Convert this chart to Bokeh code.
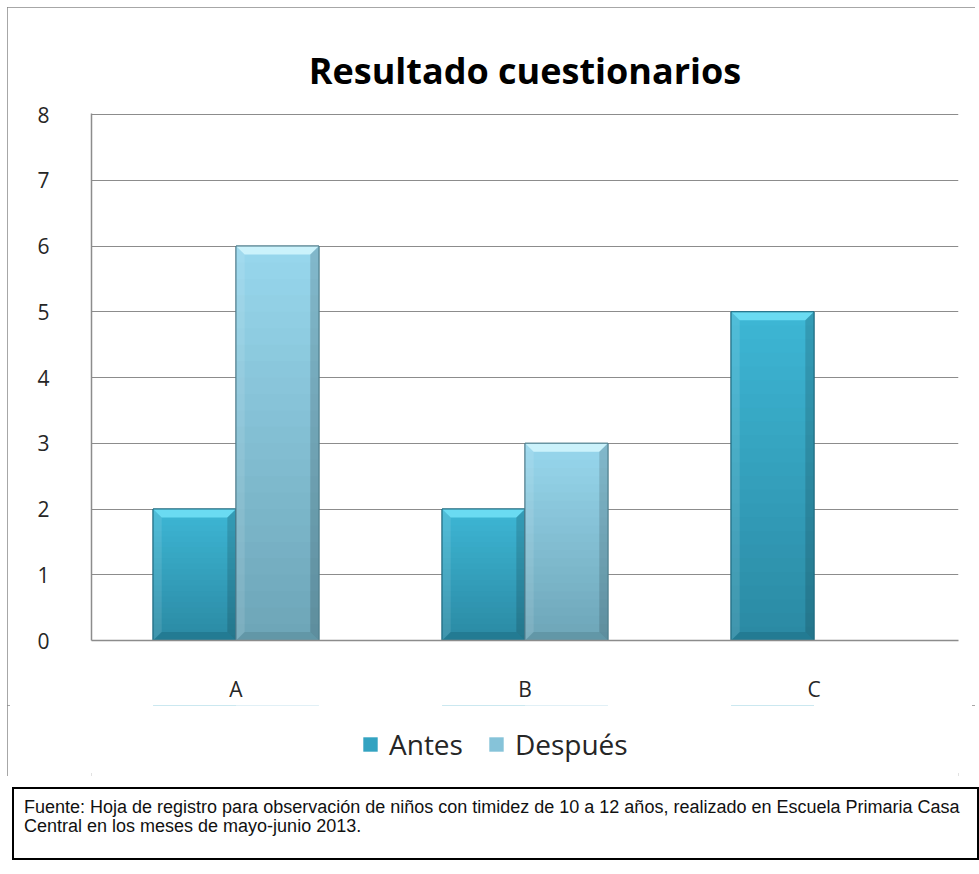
import numpy as np
from bokeh.plotting import figure
from bokeh.models import (FixedTicker, Legend, LegendItem, Div, Range1d, FactorRange)
from bokeh.layouts import column
from bokeh.embed import file_html
from bokeh.resources import INLINE

# ---- data ----
categories = ["A", "B", "C"]
antes = [2, 2, 5]
despues = [6, 3, 0]
y_ticks = [0, 1, 2, 3, 4, 5, 6, 7, 8]
series_names = ["Antes", "Después"]
title_text = "Resultado cuestionarios"
source_line_1 = ("Fuente: Hoja de registro para observación de niños con timidez de 10 a 12 años, "
                 "realizado en Escuela Primaria Casa")
source_line_2 = "Central en los meses de mayo-junio 2013."

# ---- styles ----
BAR_W = 0.287
OFFSETS = [-BAR_W / 2, BAR_W / 2]
STYLES = [
    dict(top="#3DB6D4", bottom="#2A88A2", mid="#33A3C1", bevel_top="#6ADBF2",
         bevel_bot="#22778F", edge="#1F6A80"),
    dict(top="#97D6EC", bottom="#6CA4B6", mid="#86C3D9", bevel_top="#CBF2FB",
         bevel_bot="#5F93A3", edge="#4E7D8C"),
]
GRID = "#8c8c8c"
FONT = "Open Sans"
N_LAYERS = 24
BEV_X = 0.03
BEV_Y = 0.13


def hex2rgb(h):
    h = h.lstrip("#")
    return np.array([int(h[i:i + 2], 16) for i in (0, 2, 4)], dtype=float)


def rgb2hex(c):
    c = np.clip(np.round(c), 0, 255).astype(int)
    return "#%02x%02x%02x" % tuple(c)


p = figure(width=968, height=698,
           x_range=FactorRange(factors=categories, range_padding=0),
           y_range=Range1d(y_ticks[0], y_ticks[-1] * 1.002),
           output_backend="svg", toolbar_location=None,
           min_border_left=84, min_border_right=17,
           min_border_top=106, min_border_bottom=64)

# legend strip (below the chart, inside the same bordered box)
q = figure(width=968, height=71, x_range=p.x_range, y_range=Range1d(-1000, -999),
           output_backend="svg", toolbar_location=None,
           x_axis_location=None, y_axis_location=None,
           min_border=0)
q.grid.visible = False
q.outline_line_color = None
q.background_fill_color = "white"
q.border_fill_color = "white"

centers = np.arange(len(categories)) + 0.5
legend_items = []
for name, vals, off, st in zip(series_names, [antes, despues], OFFSETS, STYLES):
    vals = np.array(vals, dtype=float)
    mask = vals > 0
    xs = centers[mask] + off
    vs = vals[mask]

    p.vbar(x=xs, top=vs, bottom=0, width=BAR_W,
           fill_color=st["mid"], line_color=st["edge"], line_width=1)

    # vertical gradient (tallest layer first)
    c_top, c_bot = hex2rgb(st["top"]), hex2rgb(st["bottom"])
    lx, lt, lc = [], [], []
    for k in range(N_LAYERS):
        frac = (N_LAYERS - k) / N_LAYERS
        col = rgb2hex(c_bot + (c_top - c_bot) * frac)
        for x, v in zip(xs, vs):
            lx.append(x)
            lt.append(v * frac)
            lc.append(col)
    p.vbar(x=lx, top=lt, bottom=0, width=BAR_W, fill_color=lc, line_color=None)

    # bevels
    x0s, x1s = xs - BAR_W / 2, xs + BAR_W / 2
    top_xs = [[a, b, b - BEV_X, a + BEV_X] for a, b in zip(x0s, x1s)]
    top_ys = [[v, v, v - BEV_Y, v - BEV_Y] for v in vs]
    p.patches(top_xs, top_ys, fill_color=st["bevel_top"], line_color=None)
    bot_xs = [[a, b, b - BEV_X, a + BEV_X] for a, b in zip(x0s, x1s)]
    bot_ys = [[0, 0, BEV_Y, BEV_Y] for v in vs]
    p.patches(bot_xs, bot_ys, fill_color=st["bevel_bot"], line_color=None, fill_alpha=0.8)
    left_xs = [[a, a + BEV_X, a + BEV_X, a] for a in x0s]
    side_ys = [[0, BEV_Y, v - BEV_Y, v] for v in vs]
    p.patches(left_xs, side_ys, fill_color="white", fill_alpha=0.10, line_color=None)
    right_xs = [[b, b - BEV_X, b - BEV_X, b] for b in x1s]
    p.patches(right_xs, side_ys, fill_color="black", fill_alpha=0.14, line_color=None)
    p.vbar(x=xs, top=vs, bottom=0, width=BAR_W, fill_color=None,
           line_color=st["edge"], line_width=1)

    # series renderer in the legend strip (its bars lie outside that strip's range)
    r = q.vbar(x=xs, top=vs, bottom=0, width=BAR_W,
               fill_color=st["mid"], line_color=None)
    legend_items.append(LegendItem(label=name, renderers=[r]))

legend = Legend(items=legend_items, orientation="horizontal", location=(270, 13))
legend.label_text_font = FONT
legend.label_text_font_size = "28px"
legend.label_text_color = "#262626"
legend.glyph_width = 18
legend.glyph_height = 18
legend.label_standoff = 10
legend.spacing = 24
legend.border_line_color = None
legend.background_fill_alpha = 0
legend.margin = 0
legend.padding = 4
q.add_layout(legend, "center")

# title
p.title.text = title_text
p.title.align = "center"
p.title.text_font = FONT
p.title.text_font_style = "bold"
p.title.text_font_size = "36px"
p.title.text_color = "#000000"
p.title.standoff = 38

# axes
p.yaxis.ticker = FixedTicker(ticks=y_ticks)
p.ygrid.ticker = FixedTicker(ticks=y_ticks)
for ax in (p.xaxis[0], p.yaxis[0]):
    ax.major_tick_out = 0
    ax.major_tick_in = 0
    ax.minor_tick_out = 0
    ax.minor_tick_in = 0
    ax.axis_line_color = GRID
    ax.axis_line_width = 1.5
    ax.major_label_text_font = FONT
    ax.major_label_text_font_size = "21px"
    ax.major_label_text_color = "#262626"
p.yaxis.major_label_standoff = 42
p.xaxis.major_label_standoff = 34
p.xgrid.visible = False
p.ygrid.grid_line_color = GRID
p.ygrid.grid_line_width = 1.2
p.outline_line_color = None
p.background_fill_color = "white"
p.border_fill_color = "white"

chart = column(p, q, spacing=0, margin=(7, 0, 0, 7),
               styles={"outline": "3px solid #8a8a8a", "outline-offset": "-3px"})

caption = Div(
    text=source_line_1 + "<br>" + source_line_2,
    width=967, height=73, margin=(11, 0, 0, 12),
    styles={"border": "2px solid #000", "box-sizing": "border-box",
            "padding": "9px 10px", "font-family": "'Liberation Sans', Arial, sans-serif",
            "font-size": "18px", "line-height": "19px", "white-space": "nowrap",
            "color": "#111", "overflow": "hidden"},
)

layout = column(chart, caption, spacing=0)
open("out.html", "w").write(file_html(layout, INLINE))
